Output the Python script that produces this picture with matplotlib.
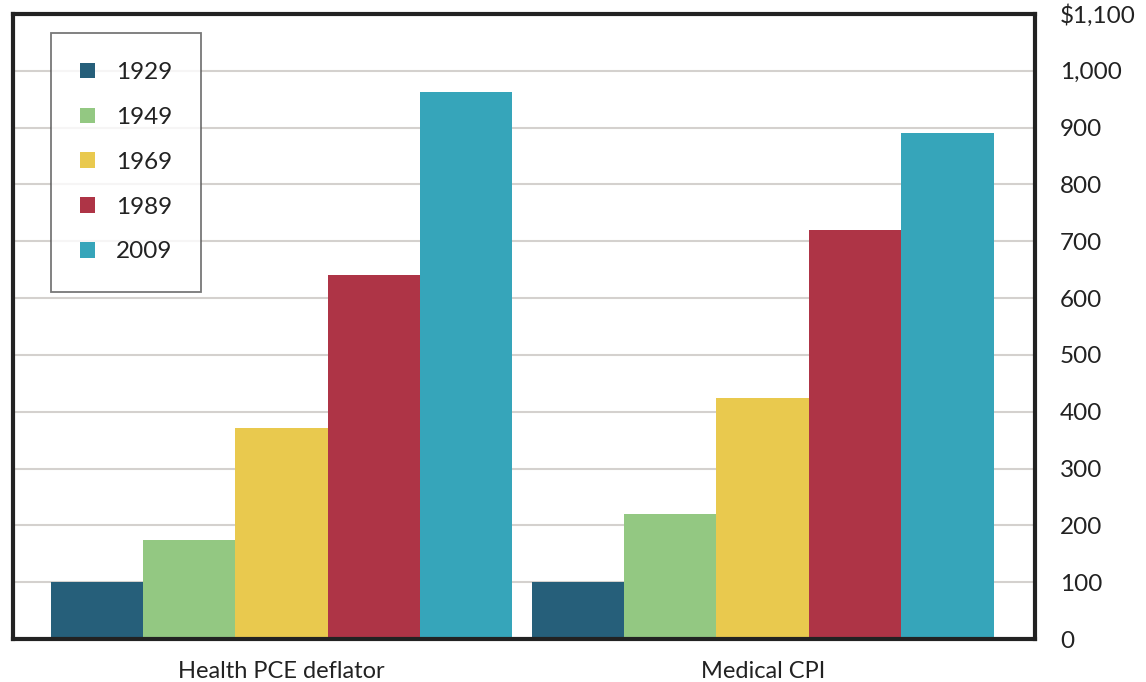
import matplotlib
matplotlib.use("Agg")
import matplotlib.pyplot as plt
import numpy as np

categories = ["Health PCE deflator", "Medical CPI"]
years = ["1929", "1949", "1969", "1989", "2009"]
values = {
    "1929": [100, 100],
    "1949": [175, 220],
    "1969": [371, 424],
    "1989": [641, 719],
    "2009": [963, 891],
}
colors = ["#265F7A", "#93C882", "#E9C94E", "#AE3446", "#36A5BA"]
yticks = [0, 100, 200, 300, 400, 500, 600, 700, 800, 900, 1000, 1100]
ytick_labels = ["0", "100", "200", "300", "400", "500", "600", "700", "800", "900", "1,000", "$1,100"]

plt.rcParams['font.family'] = ['Lato', 'DejaVu Sans']

W, H = 1146, 682
fig = plt.figure(figsize=(W / 100, H / 100), dpi=100)
ax_l, ax_r, ax_t, ax_b = 13, 1035, 14, 639
ax = fig.add_axes([ax_l / W, 1 - ax_b / H, (ax_r - ax_l) / W, (ax_b - ax_t) / H])

x = np.arange(len(categories))
w = 0.192
for i, (yr, c) in enumerate(zip(years, colors)):
    ax.bar(x + (i - 2) * w, values[yr], width=w, color=c, label=yr, zorder=3, linewidth=0)

ax.set_xlim(-0.558, 1.566)
ax.set_ylim(0, 1100)
ax.set_yticks(yticks)
ax.set_yticklabels(ytick_labels)
ax.yaxis.tick_right()
ax.tick_params(axis='y', length=0, pad=18, labelsize=17.5, labelcolor="#222222")
for lbl in ax.get_yticklabels():
    lbl.set_horizontalalignment('left')
ax.set_xticks(x)
ax.set_xticklabels(categories)
ax.tick_params(axis='x', length=0, pad=16, labelsize=17, labelcolor="#222222")

ax.grid(axis='y', color="#D4D1CE", linewidth=1.5, zorder=0)
for s in ax.spines.values():
    s.set_linewidth(3)
    s.set_color("#222222")
    s.set_zorder(5)

leg = ax.legend(loc='upper left', bbox_to_anchor=((51 - ax_l) / (ax_r - ax_l), 1 - (33 - ax_t) / (ax_b - ax_t)),
                frameon=True, fancybox=False, fontsize=17.5, handlelength=0.62, handleheight=0.62,
                handletextpad=0.85, labelspacing=0.98, borderpad=1.2, borderaxespad=0)
leg.get_frame().set_edgecolor("#555555")
leg.get_frame().set_linewidth(1.3)
for t in leg.get_texts():
    t.set_color("#222222")

fig.savefig("out.png", dpi=100)
